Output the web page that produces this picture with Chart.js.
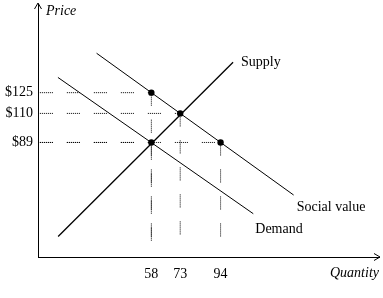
<!DOCTYPE html>
<html lang="en">
<head>
  <meta charset="UTF-8">
  <title>Supply, demand and social value</title>
  <script src="https://cdn.jsdelivr.net/npm/chart.js"></script>
  <style>
    html, body { margin: 0; padding: 0; background: #fff; }
    #wrap { width: 383px; height: 298px; }
  </style>
</head>
<body>
  <div id="wrap"><canvas id="chart" width="383" height="298"></canvas></div>
  <script>
    // values
    const xTicks = [58, 73, 94];
    const yTicks = [125, 110, 89];
    const supply = [{ x: 9.5, y: 21 }, { x: 100.5, y: 147 }];
    const socialValue = [{ x: 29.5, y: 153.5 }, { x: 132, y: 51 }];
    const demand = [{ x: 9.4, y: 136 }, { x: 111, y: 37.5 }];
    const lineNames = ['Supply', 'Social value', 'Demand'];
    const marked = [{ x: 58, y: 125 }, { x: 73, y: 110 }, { x: 58, y: 89 }, { x: 94, y: 89 }];
    const guideBottom = 12.5;

    const FONT = 'Liberation Serif, Times New Roman, serif';
    const dots = [1, 1, 1, 1, 1, 1, 1, 1, 1, 1, 1, 1, 1, 14];

    const datasets = [];
    marked.forEach(p => {
      datasets.push({ data: [{ x: 0, y: p.y }, { x: p.x, y: p.y }], borderDash: dots });
      datasets.push({ data: [{ x: p.x, y: p.y }, { x: p.x, y: guideBottom }], borderDash: dots });
    });
    datasets.forEach(d => Object.assign(d, { showLine: true, borderColor: '#000', borderWidth: 1, pointRadius: 0 }));

    [supply, socialValue, demand].forEach((pts, i) => {
      datasets.push({ label: lineNames[i], data: pts, showLine: true, borderColor: '#000', borderWidth: i === 0 ? 1.3 : 1, pointRadius: 0 });
    });
    datasets.push({ data: marked, showLine: false, pointRadius: 3.2, pointBackgroundColor: '#000', pointBorderWidth: 0 });

    const labelOffsets = [[8, 4], [3, 16], [2, 19]];

    const decor = {
      id: 'decor',
      afterDraw(chart) {
        const { ctx, chartArea: a, scales } = chart;
        ctx.save();
        ctx.strokeStyle = '#000';
        ctx.lineWidth = 1;
        // arrow heads
        ctx.beginPath();
        ctx.moveTo(a.left - 3.5, a.top + 5);
        ctx.lineTo(a.left, a.top - 1);
        ctx.lineTo(a.left + 3.5, a.top + 5);
        ctx.moveTo(a.right - 5, a.bottom - 3.5);
        ctx.lineTo(a.right + 1, a.bottom);
        ctx.lineTo(a.right - 5, a.bottom + 3.5);
        ctx.stroke();

        ctx.fillStyle = '#000';
        ctx.textBaseline = 'alphabetic';
        ctx.font = 'italic 14px ' + FONT;
        ctx.textAlign = 'left';
        ctx.fillText('Price', a.left + 8, 15);
        ctx.textAlign = 'right';
        ctx.fillText('Quantity', a.right, 277);

        ctx.font = '14px ' + FONT;
        ctx.textAlign = 'left';
        [supply, socialValue, demand].forEach((pts, i) => {
          const end = pts[pts.length - 1];
          const px = scales.x.getPixelForValue(end.x);
          const py = scales.y.getPixelForValue(end.y);
          ctx.fillText(lineNames[i], px + labelOffsets[i][0], py + labelOffsets[i][1]);
        });
        ctx.restore();
      }
    };

    new Chart(document.getElementById('chart'), {
      type: 'scatter',
      data: { datasets },
      options: {
        responsive: false,
        animation: false,
        layout: { padding: { top: 3, right: 2, left: 0, bottom: 0 } },
        plugins: { legend: { display: false }, tooltip: { enabled: false } },
        scales: {
          x: {
            type: 'linear', min: -0.97, max: 176.4,
            afterBuildTicks: s => { s.ticks = xTicks.map(v => ({ value: v })); },
            afterFit: s => { s.height = 41; s.paddingLeft = 0; s.paddingRight = 0; },
            grid: { display: false, drawTicks: false },
            border: { display: true, color: '#000', width: 1 },
            ticks: { color: '#000', padding: 9, font: { family: FONT, size: 14 }, maxRotation: 0, autoSkip: false }
          },
          y: {
            type: 'linear', min: 6.2, max: 189.1,
            afterBuildTicks: s => { s.ticks = yTicks.map(v => ({ value: v })); },
            afterFit: s => { s.width = 38; s.paddingTop = 0; s.paddingBottom = 0; },
            grid: { display: false, drawTicks: false },
            border: { display: true, color: '#000', width: 1 },
            ticks: { color: '#000', padding: 5, font: { family: FONT, size: 14 }, autoSkip: false, callback: v => '$' + v }
          }
        }
      },
      plugins: [decor]
    });
  </script>
</body>
</html>
